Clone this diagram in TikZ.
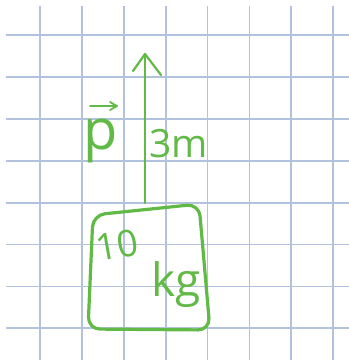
\documentclass[tikz,border=0pt]{standalone}
\usepackage{fontspec}
\setmainfont{Open Sans}
\usetikzlibrary{calc}
\definecolor{gridblue}{RGB}{178,194,220}
\definecolor{penGreen}{RGB}{98,186,70}

\begin{document}
\begin{tikzpicture}[
    x=1pt, y=-1pt,
    gridline/.style={draw=gridblue, line width=1.8pt},
    ink/.style={draw=penGreen, line width=2.2pt, line cap=round, line join=round},
    inkbox/.style={ink, line width=3.2pt, rounded corners=12pt},
    hand/.style={text=penGreen, inner sep=0pt, anchor=base west}
]
    \useasboundingbox[fill=white] (0,0) rectangle (349,360);

    \foreach \i in {0,...,7} {
        \draw[gridline] ({40+41.9*\i},6) -- ({40+41.9*\i},360);
        \draw[gridline] (6,{35+41.9*\i}) -- (349,{35+41.9*\i});
    }

    \draw[inkbox] (93,215) -- (199,204) -- (210,330) -- (88,329) -- cycle;

    \coordinate (foot) at (145,203);
    \coordinate (tip)  at (145,54);
    \draw[ink] (foot) -- (tip);
    \draw[ink] ($(tip)+(-12,17)$) -- (tip) -- ($(tip)+(16,21)$);

    \node[hand, font=\fontsize{56}{56}\selectfont] (mom) at (83,149) {p};
    \coordinate (vecL) at (90,106);
    \coordinate (vecR) at (117,106);
    \draw[ink, line width=1.8pt] (vecL) -- (vecR);
    \draw[ink, line width=1.8pt] ($(vecR)+(-7,-4)$) -- (vecR) -- ($(vecR)+(-7,4)$);

    \node[hand, font=\fontsize{39}{39}\selectfont] (dist) at (149,157) {3m};
    \node[hand, font=\fontsize{37}{37}\selectfont, rotate=10,
          text height=27pt, text depth=0pt] (mass) at (98,262) {10};
    \node[hand, font=\fontsize{46}{46}\selectfont,
          text height=34pt, text depth=11pt] (unit) at (151,296) {kg};
\end{tikzpicture}
\end{document}
